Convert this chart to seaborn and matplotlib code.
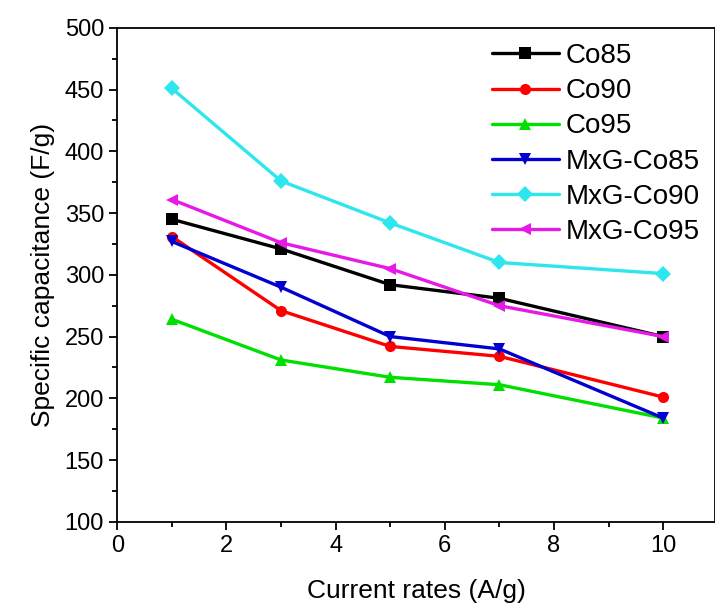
import pandas as pd
import matplotlib
matplotlib.use("Agg")
import matplotlib.pyplot as plt
import seaborn as sns
from matplotlib.ticker import MultipleLocator

# --- dane ---
current = [1, 3, 5, 7, 10]
co85 = [345, 321, 292, 281, 250]
co90 = [331, 271, 242, 234, 201]
co95 = [264, 231, 217, 211, 184]
mxg_co85 = [327, 290, 250, 240, 184]
mxg_co90 = [451, 376, 342, 310, 301]
mxg_co95 = [361, 326, 305, 275, 250]

names = ["Co85", "Co90", "Co95", "MxG-Co85", "MxG-Co90", "MxG-Co95"]
series = [co85, co90, co95, mxg_co85, mxg_co90, mxg_co95]

df = pd.DataFrame(
    [(n, x, y) for n, vals in zip(names, series) for x, y in zip(current, vals)],
    columns=["sample", "rate", "cap"],
)

colors = ["#000000", "#ff0000", "#00e000", "#0000d0", "#2ee6ee", "#e619e6"]
markers = ["s", "o", "^", "v", "D", "<"]

sns.set_style("ticks")
plt.rcParams["font.family"] = ["Liberation Sans", "DejaVu Sans"]
plt.rcParams["text.color"] = "black"
plt.rcParams["axes.labelcolor"] = "black"
plt.rcParams["xtick.color"] = "black"
plt.rcParams["ytick.color"] = "black"
plt.rcParams["axes.edgecolor"] = "black"

fig = plt.figure(figsize=(7.15, 6.06), dpi=100)
ax = fig.add_axes([0.164, 0.139, 0.836, 0.815])

sns.lineplot(
    data=df, x="rate", y="cap", hue="sample", style="sample",
    hue_order=names, style_order=names,
    palette=dict(zip(names, colors)),
    markers=dict(zip(names, markers)),
    dashes=False, linewidth=2.4, markersize=8, markeredgewidth=0,
    ax=ax,
)

ax.set_xlim(0, 10.95)
ax.set_ylim(100, 500)
ax.xaxis.set_major_locator(MultipleLocator(2))
ax.xaxis.set_minor_locator(MultipleLocator(1))
ax.yaxis.set_major_locator(MultipleLocator(50))
ax.yaxis.set_minor_locator(MultipleLocator(25))
ax.tick_params(which="major", length=6, width=1.3, labelsize=17, direction="out")
ax.tick_params(which="minor", length=3.5, width=1.3, direction="out")
for s in ax.spines.values():
    s.set_linewidth(1.3)

ax.set_xlabel("Current rates (A/g)", fontsize=19, labelpad=16)
ax.set_ylabel("Specific capacitance (F/g)", fontsize=19, labelpad=7)

leg = ax.legend(loc="upper right", bbox_to_anchor=(1.0, 1.0), frameon=False,
                fontsize=20, handlelength=2.4, handletextpad=0.25, labelspacing=0.33,
                borderaxespad=0.15, title=None)

fig.savefig("out.png", dpi=100)
